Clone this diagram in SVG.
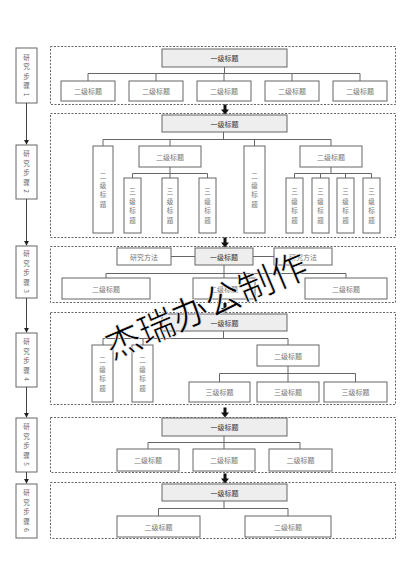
<svg xmlns="http://www.w3.org/2000/svg" width="412" height="584" viewBox="0 0 412 584">
<style>
.dash{fill:none;stroke:#666;stroke-width:1;stroke-dasharray:2 1.5}
.t1{fill:#eeeeee;stroke:#666;stroke-width:1}
.b{fill:#fff;stroke:#666;stroke-width:1}
.ln{stroke:#666;stroke-width:1;fill:none}
.sl{stroke:#444;stroke-width:1;fill:none}
text,tspan{font-family:"Noto Sans CJK SC","Noto Sans",sans-serif;text-anchor:middle;dominant-baseline:central}
.l{font-size:7px;fill:#777}
.lv{font-size:6.5px;fill:#777}
.h{font-size:7px;fill:#333}
.s{font-size:6.5px;fill:#666}
.wm{font-size:36px;fill:#000;stroke:#fff;stroke-width:0.6}
</style>
<defs>
<marker id="ah" viewBox="0 0 6 6" refX="5" refY="3" markerWidth="5" markerHeight="5" orient="auto">
<path d="M0,0 L6,3 L0,6 z" fill="#222"/>
</marker>
<path id="ba" d="M-1.5,0 h3 v5 h2.5 l-4,5 l-4,-5 h2.5 z" fill="#111"/>
</defs>
<rect width="412" height="584" fill="#fff"/>

<g id="steps">
<g id="step1"><rect class="b" x="16" y="48" width="21" height="55"/><text class="s"><tspan x="26.5" y="56.5">研</tspan><tspan x="26.5" y="66">究</tspan><tspan x="26.5" y="75.5">步</tspan><tspan x="26.5" y="85">骤</tspan></text><text class="s" x="26.5" y="94.5" transform="rotate(90 26.5 94.5)">1</text></g>
<g id="step2"><rect class="b" x="16" y="145" width="21" height="54"/><text class="s"><tspan x="26.5" y="153">研</tspan><tspan x="26.5" y="162.5">究</tspan><tspan x="26.5" y="172">步</tspan><tspan x="26.5" y="181.5">骤</tspan></text><text class="s" x="26.5" y="191" transform="rotate(90 26.5 191)">2</text></g>
<g id="step3"><rect class="b" x="16" y="246" width="21" height="52"/><text class="s"><tspan x="26.5" y="253">研</tspan><tspan x="26.5" y="262.5">究</tspan><tspan x="26.5" y="272">步</tspan><tspan x="26.5" y="281.5">骤</tspan></text><text class="s" x="26.5" y="291" transform="rotate(90 26.5 291)">3</text></g>
<g id="step4"><rect class="b" x="16" y="333" width="21" height="54"/><text class="s"><tspan x="26.5" y="341">研</tspan><tspan x="26.5" y="350.5">究</tspan><tspan x="26.5" y="360">步</tspan><tspan x="26.5" y="369.5">骤</tspan></text><text class="s" x="26.5" y="379" transform="rotate(90 26.5 379)">4</text></g>
<g id="step5"><rect class="b" x="16" y="418" width="21" height="54"/><text class="s"><tspan x="26.5" y="426">研</tspan><tspan x="26.5" y="435.5">究</tspan><tspan x="26.5" y="445">步</tspan><tspan x="26.5" y="454.5">骤</tspan></text><text class="s" x="26.5" y="464" transform="rotate(90 26.5 464)">5</text></g>
<g id="step6"><rect class="b" x="16" y="484" width="21" height="54"/><text class="s"><tspan x="26.5" y="492">研</tspan><tspan x="26.5" y="501.5">究</tspan><tspan x="26.5" y="511">步</tspan><tspan x="26.5" y="520.5">骤</tspan></text><text class="s" x="26.5" y="530" transform="rotate(90 26.5 530)">6</text></g>
</g>

<g id="sections">
<rect class="dash" x="50.5" y="46.5" width="345" height="58"/>
<rect class="dash" x="50.5" y="113.5" width="345" height="124"/>
<rect class="dash" x="50.5" y="246.5" width="345" height="56"/>
<rect class="dash" x="50.5" y="312.5" width="345" height="92"/>
<rect class="dash" x="50.5" y="417.5" width="345" height="55"/>
<rect class="dash" x="50.5" y="482.5" width="345" height="56"/>
</g>

<g id="connectors">
<path class="sl" d="M26.5,103 V144" marker-end="url(#ah)"/>
<path class="sl" d="M26.5,199 V245" marker-end="url(#ah)"/>
<path class="sl" d="M26.5,298 V332" marker-end="url(#ah)"/>
<path class="sl" d="M26.5,387 V417" marker-end="url(#ah)"/>
<path class="sl" d="M26.5,472 V483" marker-end="url(#ah)"/>
<use href="#ba" x="225" y="104.5"/>
<use href="#ba" x="225" y="237.5"/>
<use href="#ba" x="225" y="303"/>
<use href="#ba" x="225" y="407.5"/>
<use href="#ba" x="225" y="473.5"/>
<path class="ln" d="M224.5,67 V73.5 M88,73.5 H360 M88,73.5 V81 M156,73.5 V81 M224,73.5 V81 M292,73.5 V81 M360,73.5 V81"/>
<path class="ln" d="M223.5,132 V139.5 M103,139.5 H331 M103,139.5 V146 M170,139.5 V146 M254.5,139.5 V146 M331,139.5 V146"/>
<path class="ln" d="M170,167 V173.5 M132.5,173.5 H207.5 M132.5,173.5 V178 M170,173.5 V178 M207.5,173.5 V178"/>
<path class="ln" d="M331,167 V173.5 M294.5,173.5 H371.5 M294.5,173.5 V178 M320.5,173.5 V178 M345.5,173.5 V178 M371.5,173.5 V178"/>
<path class="ln" d="M171,256.5 H195 M253,256.5 H274 M224,265 V273.5 M106,273.5 H346 M106,273.5 V278 M224,273.5 V278 M346,273.5 V278"/>
<path class="ln" d="M223.5,331 V338.5 M103,338.5 H288 M103,338.5 V345 M143,338.5 V345 M288,338.5 V345"/>
<path class="ln" d="M288,366 V373.5 M219.5,373.5 H355.5 M219.5,373.5 V382 M288,373.5 V382 M355.5,373.5 V382"/>
<path class="ln" d="M224,436 V442.5 M148,442.5 H300 M148,442.5 V449 M224,442.5 V449 M300,442.5 V449"/>
<path class="ln" d="M224,501 V508.5 M158.5,508.5 H288 M158.5,508.5 V516 M288,508.5 V516"/>
</g>

<g id="s1">
<g id="s1-title"><rect class="t1" x="162" y="49" width="125" height="18"/><text class="h" x="224.5" y="58">一级标题</text></g>
<g id="s1-a"><rect class="b" x="61" y="81" width="54" height="20"/><text class="l" x="88" y="91">二级标题</text></g>
<g id="s1-b"><rect class="b" x="129" y="81" width="54" height="20"/><text class="l" x="156" y="91">二级标题</text></g>
<g id="s1-c"><rect class="b" x="197" y="81" width="54" height="20"/><text class="l" x="224" y="91">二级标题</text></g>
<g id="s1-d"><rect class="b" x="265" y="81" width="54" height="20"/><text class="l" x="292" y="91">二级标题</text></g>
<g id="s1-e"><rect class="b" x="333" y="81" width="54" height="20"/><text class="l" x="360" y="91">二级标题</text></g>
</g>

<g id="s2">
<g id="s2-title"><rect class="t1" x="162" y="115" width="125" height="17"/><text class="h" x="224.5" y="123.5">一级标题</text></g>
<g id="s2-a"><rect class="b" x="93" y="146" width="20" height="87"/><text class="lv"><tspan x="103" y="175.25">二</tspan><tspan x="103" y="184.75">级</tspan><tspan x="103" y="194.25">标</tspan><tspan x="103" y="203.75">题</tspan></text></g>
<g id="s2-b"><rect class="b" x="139" y="146" width="62" height="21"/><text class="l" x="170" y="156.5">二级标题</text></g>
<g id="s2-c"><rect class="b" x="244" y="146" width="21" height="87"/><text class="lv"><tspan x="254.5" y="175.25">二</tspan><tspan x="254.5" y="184.75">级</tspan><tspan x="254.5" y="194.25">标</tspan><tspan x="254.5" y="203.75">题</tspan></text></g>
<g id="s2-d"><rect class="b" x="300" y="146" width="62" height="21"/><text class="l" x="331" y="156.5">二级标题</text></g>
<g id="s2-b1"><rect class="b" x="124" y="178" width="17" height="55"/><text class="lv"><tspan x="132.5" y="191.25">三</tspan><tspan x="132.5" y="200.75">级</tspan><tspan x="132.5" y="210.25">标</tspan><tspan x="132.5" y="219.75">题</tspan></text></g>
<g id="s2-b2"><rect class="b" x="162" y="178" width="16" height="55"/><text class="lv"><tspan x="170" y="191.25">三</tspan><tspan x="170" y="200.75">级</tspan><tspan x="170" y="210.25">标</tspan><tspan x="170" y="219.75">题</tspan></text></g>
<g id="s2-b3"><rect class="b" x="199" y="178" width="17" height="55"/><text class="lv"><tspan x="207.5" y="191.25">三</tspan><tspan x="207.5" y="200.75">级</tspan><tspan x="207.5" y="210.25">标</tspan><tspan x="207.5" y="219.75">题</tspan></text></g>
<g id="s2-d1"><rect class="b" x="286" y="178" width="17" height="55"/><text class="lv"><tspan x="294.5" y="191.25">三</tspan><tspan x="294.5" y="200.75">级</tspan><tspan x="294.5" y="210.25">标</tspan><tspan x="294.5" y="219.75">题</tspan></text></g>
<g id="s2-d2"><rect class="b" x="312" y="178" width="17" height="55"/><text class="lv"><tspan x="320.5" y="191.25">三</tspan><tspan x="320.5" y="200.75">级</tspan><tspan x="320.5" y="210.25">标</tspan><tspan x="320.5" y="219.75">题</tspan></text></g>
<g id="s2-d3"><rect class="b" x="337" y="178" width="17" height="55"/><text class="lv"><tspan x="345.5" y="191.25">三</tspan><tspan x="345.5" y="200.75">级</tspan><tspan x="345.5" y="210.25">标</tspan><tspan x="345.5" y="219.75">题</tspan></text></g>
<g id="s2-d4"><rect class="b" x="363" y="178" width="17" height="55"/><text class="lv"><tspan x="371.5" y="191.25">三</tspan><tspan x="371.5" y="200.75">级</tspan><tspan x="371.5" y="210.25">标</tspan><tspan x="371.5" y="219.75">题</tspan></text></g>
</g>

<g id="s3">
<g id="s3-m1"><rect class="b" x="117" y="248" width="54" height="17"/><text class="l" x="144" y="256.5">研究方法</text></g>
<g id="s3-title"><rect class="t1" x="195" y="248" width="58" height="17"/><text class="h" x="224" y="256.5">一级标题</text></g>
<g id="s3-m2"><rect class="b" x="274" y="248" width="58" height="17"/><text class="l" x="303" y="256.5">研究方法</text></g>
<g id="s3-a"><rect class="b" x="62" y="278" width="88" height="21"/><text class="l" x="106" y="288.5">二级标题</text></g>
<g id="s3-b"><rect class="b" x="193" y="278" width="62" height="21"/><text class="l" x="224" y="288.5">二级标题</text></g>
<g id="s3-c"><rect class="b" x="305" y="278" width="82" height="21"/><text class="l" x="346" y="288.5">二级标题</text></g>
</g>

<g id="s4">
<g id="s4-title"><rect class="t1" x="162" y="314" width="125" height="17"/><text class="h" x="224.5" y="322.5">一级标题</text></g>
<g id="s4-a"><rect class="b" x="92" y="345" width="21" height="57"/><text class="lv"><tspan x="102.5" y="359.25">二</tspan><tspan x="102.5" y="368.75">级</tspan><tspan x="102.5" y="378.25">标</tspan><tspan x="102.5" y="387.75">题</tspan></text></g>
<g id="s4-b"><rect class="b" x="132" y="345" width="21" height="57"/><text class="lv"><tspan x="142.5" y="359.25">二</tspan><tspan x="142.5" y="368.75">级</tspan><tspan x="142.5" y="378.25">标</tspan><tspan x="142.5" y="387.75">题</tspan></text></g>
<g id="s4-c"><rect class="b" x="257" y="345" width="62" height="21"/><text class="l" x="288" y="355.5">二级标题</text></g>
<g id="s4-c1"><rect class="b" x="189" y="382" width="61" height="20"/><text class="l" x="219.5" y="392">三级标题</text></g>
<g id="s4-c2"><rect class="b" x="257" y="382" width="62" height="20"/><text class="l" x="288" y="392">三级标题</text></g>
<g id="s4-c3"><rect class="b" x="324" y="382" width="63" height="20"/><text class="l" x="355.5" y="392">三级标题</text></g>
</g>

<g id="s5">
<g id="s5-title"><rect class="t1" x="162" y="418" width="125" height="18"/><text class="h" x="224.5" y="427">一级标题</text></g>
<g id="s5-a"><rect class="b" x="117" y="449" width="62" height="22"/><text class="l" x="148" y="460">二级标题</text></g>
<g id="s5-b"><rect class="b" x="193" y="449" width="62" height="22"/><text class="l" x="224" y="460">二级标题</text></g>
<g id="s5-c"><rect class="b" x="269" y="449" width="63" height="22"/><text class="l" x="300.5" y="460">二级标题</text></g>
</g>

<g id="s6">
<g id="s6-title"><rect class="t1" x="162" y="484" width="125" height="17"/><text class="h" x="224.5" y="492.5">一级标题</text></g>
<g id="s6-a"><rect class="b" x="117" y="516" width="83" height="21"/><text class="l" x="158.5" y="526.5">二级标题</text></g>
<g id="s6-b"><rect class="b" x="245" y="516" width="86" height="21"/><text class="l" x="288" y="526.5">二级标题</text></g>
</g>

<g id="watermark">
<text class="wm" x="205" y="303" transform="rotate(-23 205 303)">杰瑞办公制作</text>
</g>
</svg>
